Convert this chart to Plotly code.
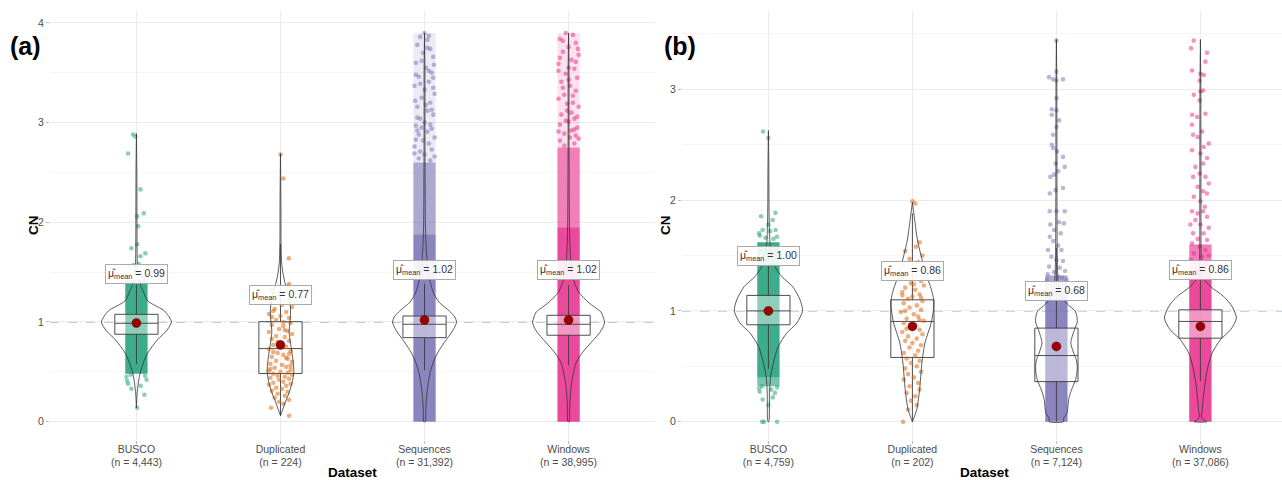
import plotly.graph_objects as go

# ---------------- data ----------------
categories = ["BUSCO", "Duplicated", "Sequences", "Windows"]
n_a = ["4,443", "224", "31,392", "38,995"]
n_b = ["4,759", "202", "7,124", "37,086"]
colors = ["#1B9E77", "#D95F02", "#7570B3", "#E7298A"]

# box statistics (panel a)
q1_a = [0.877, 0.483, 0.843, 0.867]
med_a = [0.987, 0.733, 0.977, 0.977]
q3_a = [1.077, 1.003, 1.060, 1.067]
min_a = [0.14, 0.06, 0.0, 0.0]
max_a = [2.89, 2.69, 3.90, 3.90]
mean_a = [0.99, 0.77, 1.02, 1.02]

# box statistics (panel b)
q1_b = [0.875, 0.580, 0.362, 0.754]
med_b = [1.000, 0.905, 0.597, 0.905]
q3_b = [1.140, 1.100, 0.845, 1.010]
min_b = [0.0, 0.0, 0.0, 0.0]
max_b = [2.63, 1.99, 3.45, 3.45]
mean_b = [1.00, 0.86, 0.68, 0.86]

# violin profiles: CN levels and half-widths (category units)
vy_a = [
    [0.14, 0.3, 0.45, 0.55, 0.68, 0.82, 0.91, 1.0, 1.11, 1.21, 1.31, 1.38, 1.45, 1.6, 2.0, 2.5, 2.89],
    [0.06, 0.1, 0.2, 0.3, 0.4, 0.5, 0.6, 0.7, 0.8, 0.9, 1.0, 1.1, 1.2, 1.3, 1.4, 1.5, 1.6, 1.8, 2.2, 2.69],
    [0.0, 0.1, 0.2, 0.3, 0.4, 0.5, 0.6, 0.7, 0.8, 0.9, 0.95, 1.0, 1.05, 1.1, 1.15, 1.2, 1.3, 1.4, 1.5, 1.6, 1.8, 2.0, 2.5, 3.0, 3.5, 3.9],
    [0.0, 0.1, 0.2, 0.3, 0.4, 0.5, 0.6, 0.7, 0.8, 0.9, 0.95, 1.0, 1.05, 1.1, 1.15, 1.2, 1.3, 1.4, 1.5, 1.6, 1.8, 2.0, 2.5, 3.0, 3.5, 3.9],
]
vw_a = [
    [0.0, 0.006, 0.02, 0.038, 0.075, 0.145, 0.208, 0.243, 0.195, 0.08, 0.046, 0.025, 0.012, 0.006, 0.004, 0.003, 0.0],
    [0.0, 0.01, 0.035, 0.062, 0.082, 0.093, 0.088, 0.079, 0.068, 0.06, 0.066, 0.07, 0.066, 0.05, 0.03, 0.016, 0.008, 0.004, 0.003, 0.0],
    [0.006, 0.008, 0.012, 0.018, 0.027, 0.04, 0.062, 0.095, 0.14, 0.19, 0.21, 0.222, 0.21, 0.18, 0.14, 0.10, 0.06, 0.04, 0.027, 0.018, 0.01, 0.006, 0.004, 0.003, 0.003, 0.0],
    [0.005, 0.007, 0.01, 0.014, 0.022, 0.035, 0.055, 0.10, 0.16, 0.22, 0.24, 0.25, 0.24, 0.225, 0.18, 0.135, 0.07, 0.04, 0.025, 0.016, 0.009, 0.006, 0.004, 0.003, 0.003, 0.0],
]
vy_b = [
    [0.0, 0.26, 0.41, 0.56, 0.68, 0.8, 0.89, 1.0, 1.1, 1.22, 1.31, 1.4, 1.5, 1.6, 1.8, 2.0, 2.3, 2.63],
    [0.0, 0.11, 0.29, 0.53, 0.71, 0.89, 1.0, 1.1, 1.2, 1.34, 1.5, 1.64, 1.8, 1.98],
    [0.0, 0.03, 0.08, 0.14, 0.2, 0.26, 0.32, 0.38, 0.44, 0.5, 0.56, 0.62, 0.71, 0.77, 0.83, 0.9, 0.95, 1.0, 1.05, 1.1, 1.2, 1.3, 1.5, 2.0, 3.0, 3.45],
    [0.0, 0.02, 0.05, 0.075, 0.2, 0.35, 0.5, 0.62, 0.74, 0.83, 0.935, 1.04, 1.13, 1.22, 1.3, 1.4, 1.5, 2.0, 3.0, 3.45],
]
vw_b = [
    [0.003, 0.008, 0.016, 0.04, 0.069, 0.127, 0.197, 0.237, 0.22, 0.168, 0.093, 0.046, 0.025, 0.012, 0.006, 0.004, 0.003, 0.0],
    [0.0, 0.03, 0.05, 0.066, 0.087, 0.13, 0.145, 0.148, 0.13, 0.092, 0.06, 0.035, 0.018, 0.0],
    [0.05, 0.05, 0.074, 0.08, 0.085, 0.097, 0.115, 0.133, 0.142, 0.145, 0.138, 0.12, 0.1, 0.11, 0.125, 0.145, 0.142, 0.13, 0.085, 0.05, 0.02, 0.01, 0.006, 0.004, 0.003, 0.0],
    [0.045, 0.02, 0.006, 0.01, 0.019, 0.032, 0.053, 0.081, 0.139, 0.21, 0.25, 0.22, 0.162, 0.07, 0.02, 0.008, 0.005, 0.004, 0.003, 0.0],
]

# densely over-plotted jitter zones [low, high] in CN (None = no zone)
solid_a = [[0.48, 1.42], None, [0.0, 1.88], [0.0, 1.95]]
mid_a = [None, None, [1.88, 2.60], [1.95, 2.75]]
light_a = [None, None, [2.60, 3.90], [2.75, 3.90]]
solid_b = [[0.40, 1.62], None, [0.0, 1.18], [0.0, 1.38]]
mid_b = [[0.32, 0.40], None, [1.18, 1.32], [1.38, 1.60]]
light_b = [None, None, None, None]

# individually visible jitter points: (offset from category, CN)
pts_a = [
    [(-0.023, 2.88), (-0.007, 2.86), (-0.058, 2.69), (0.028, 2.33), (0.051, 2.09), (0.005, 2.06),
     (0.012, 1.96), (0.005, 1.78), (-0.035, 1.74), (0.028, 1.66), (0.062, 1.69), (0.016, 1.58),
     (-0.053, 1.55), (-0.02, 1.57), (-0.05, 1.45), (0.04, 1.47), (-0.01, 1.50), (0.065, 1.44),
     (-0.058, 0.38), (-0.035, 0.33), (0.055, 0.27), (0.005, 0.14), (-0.07, 0.45), (0.07, 0.42),
     (-0.04, 0.47), (0.03, 0.36), (0.06, 0.46), (-0.065, 0.41)],
    [(0.0, 2.68), (0.02, 2.44), (0.058, 1.64), (0.06, 1.38), (-0.065, 0.14), (0.06, 0.06),
     (-0.06, 1.32), (0.03, 1.30), (-0.02, 1.25), (0.05, 1.22), (-0.07, 1.19), (0.01, 1.17),
     (0.08, 1.15), (-0.04, 1.13), (0.04, 1.10), (-0.08, 1.08), (0.0, 1.06), (0.06, 1.04),
     (-0.03, 1.02), (0.07, 0.99), (-0.06, 0.97), (0.02, 0.96), (-0.01, 0.93), (0.05, 0.91),
     (-0.08, 0.90), (0.08, 0.88), (-0.03, 0.86), (0.03, 0.85), (-0.06, 0.83), (0.06, 0.81),
     (0.0, 0.79), (-0.05, 0.77), (0.04, 0.75), (-0.08, 0.73), (0.07, 0.71), (-0.02, 0.69),
     (0.02, 0.67), (-0.06, 0.65), (0.05, 0.63), (-0.03, 0.61), (0.08, 0.60), (-0.07, 0.58),
     (0.01, 0.57), (0.04, 0.55), (-0.04, 0.54), (0.07, 0.52), (-0.08, 0.51), (0.0, 0.50),
     (0.05, 0.49), (-0.05, 0.48), (0.08, 0.47), (-0.02, 0.46), (0.03, 0.45), (-0.07, 0.44),
     (0.06, 0.43), (-0.01, 0.42), (0.02, 0.40), (-0.05, 0.39), (0.07, 0.38), (-0.08, 0.37),
     (0.04, 0.36), (-0.03, 0.34), (0.01, 0.33), (-0.06, 0.31), (0.05, 0.30), (-0.02, 0.28),
     (0.03, 0.26), (-0.04, 0.24), (0.06, 0.22), (-0.01, 0.20), (0.02, 0.18), (0.05, 1.36),
     (-0.04, 1.28), (0.01, 1.21), (-0.05, 1.11), (0.02, 1.00), (-0.02, 0.80), (0.06, 0.68),
     (-0.05, 0.70), (0.03, 0.92), (-0.06, 1.05), (0.07, 0.56), (-0.07, 0.53), (0.04, 0.64)],
    [(0.0, 3.90), (-0.03, 3.86), (0.02, 3.83), (-0.05, 3.78), (0.04, 3.74), (-0.01, 3.70),
     (0.06, 3.66), (-0.06, 3.60), (0.01, 3.55), (0.05, 3.50), (-0.04, 3.46), (0.03, 3.41),
     (-0.07, 3.37), (0.0, 3.33), (0.07, 3.29), (-0.02, 3.25), (0.04, 3.20), (-0.05, 3.16),
     (0.02, 3.12), (0.06, 3.08), (-0.03, 3.04), (0.0, 3.00), (-0.06, 2.97), (0.05, 2.94),
     (0.02, 2.91), (-0.04, 2.88), (0.07, 2.85), (-0.01, 2.82), (0.03, 2.79), (-0.07, 2.76),
     (0.05, 2.73), (-0.03, 2.71), (0.06, 3.45), (-0.05, 3.05), (0.04, 2.98), (-0.02, 3.62),
     (0.03, 3.87), (-0.06, 2.83), (0.065, 3.58), (-0.065, 3.22), (0.03, 3.52), (-0.03, 3.39),
     (0.05, 3.13), (-0.05, 2.92), (0.0, 2.68), (0.07, 2.66), (-0.07, 2.69), (0.02, 3.75),
     (-0.04, 2.64), (0.04, 2.62), (0.01, 3.18), (-0.02, 2.95), (0.06, 3.35), (-0.06, 3.48)],
    [(-0.02, 3.90), (0.03, 3.88), (-0.06, 3.84), (0.05, 3.80), (0.0, 3.76), (-0.04, 3.71),
     (0.07, 3.68), (0.02, 3.63), (-0.07, 3.59), (0.04, 3.54), (-0.02, 3.49), (0.06, 3.45),
     (-0.05, 3.41), (0.01, 3.37), (0.05, 3.32), (-0.03, 3.28), (-0.07, 3.24), (0.03, 3.20),
     (0.07, 3.16), (-0.01, 3.12), (-0.05, 3.08), (0.04, 3.04), (0.0, 3.01), (-0.06, 2.98),
     (0.06, 2.95), (0.02, 2.92), (-0.03, 2.89), (0.05, 2.87), (-0.07, 3.52), (0.065, 3.74),
     (-0.04, 3.35), (0.02, 3.10), (-0.06, 3.65), (0.04, 2.93), (0.0, 3.55), (-0.02, 3.02),
     (0.07, 2.84), (-0.06, 2.82), (0.03, 3.27), (-0.04, 3.82), (0.05, 3.61), (-0.01, 3.19),
     (0.04, 2.79), (-0.03, 2.77), (0.01, 2.85), (-0.07, 2.91), (0.06, 3.06), (0.0, 3.43)],
]
pts_b = [
    [(-0.051, 1.855), (0.049, 1.885), (0.03, 1.82), (-0.04, 1.73), (0.05, 1.73), (0.012, 1.72),
     (-0.037, 2.62), (0.0, 2.56), (-0.06, 1.68), (0.06, 1.67), (-0.02, 1.66), (0.035, 1.65),
     (-0.065, 1.70), (0.0, 1.78), (-0.044, 0.32), (-0.04, 0.20), (0.045, 0.26), (-0.044, 0.0),
     (-0.03, 0.0), (0.06, 0.0), (-0.06, 0.27), (0.06, 0.31), (0.02, 0.29), (0.03, 0.22),
     (0.0, 0.15), (-0.065, 0.30)],
    [(0.0, 1.99), (0.02, 1.97), (0.025, 1.58), (-0.05, 1.54), (0.07, 1.50), (-0.065, 0.0),
     (0.05, 1.62), (-0.02, 1.47), (0.04, 1.44), (-0.06, 1.41), (0.01, 1.39), (0.07, 1.36),
     (-0.04, 1.34), (0.03, 1.31), (-0.08, 1.29), (0.06, 1.27), (-0.01, 1.25), (0.08, 1.23),
     (-0.05, 1.21), (0.02, 1.19), (-0.07, 1.17), (0.05, 1.15), (0.0, 1.13), (-0.03, 1.11),
     (0.07, 1.09), (-0.06, 1.07), (0.03, 1.05), (-0.02, 1.03), (0.06, 1.01), (-0.08, 0.99),
     (0.01, 0.97), (0.04, 0.95), (-0.04, 0.93), (0.08, 0.91), (-0.06, 0.89), (0.02, 0.87),
     (-0.01, 0.85), (0.05, 0.83), (-0.07, 0.81), (0.07, 0.79), (-0.03, 0.77), (0.03, 0.75),
     (-0.05, 0.73), (0.0, 0.71), (0.06, 0.69), (-0.02, 0.67), (0.04, 0.64), (-0.06, 0.62),
     (0.02, 0.60), (-0.04, 0.57), (0.05, 0.55), (-0.01, 0.53), (0.03, 0.50), (-0.05, 0.48),
     (0.06, 0.45), (-0.03, 0.43), (0.01, 0.40), (-0.06, 0.38), (0.04, 0.35), (-0.02, 0.32),
     (0.05, 0.29), (-0.04, 0.26), (0.02, 0.23), (-0.01, 0.19), (0.03, 0.15), (-0.03, 0.11),
     (0.06, 1.12), (-0.05, 1.00), (0.05, 0.92), (-0.04, 0.84), (0.01, 1.24), (-0.07, 1.14)],
    [(0.0, 3.44), (0.0, 3.16), (-0.051, 3.11), (-0.023, 3.09), (0.0, 3.08), (0.046, 3.09),
     (0.0, 2.92), (-0.032, 2.82), (0.0, 2.81), (-0.032, 2.77), (0.019, 2.72), (0.0, 2.66),
     (-0.023, 2.59), (-0.032, 2.50), (-0.023, 2.47), (0.005, 2.44), (-0.005, 2.33), (0.046, 2.39),
     (0.058, 2.30), (-0.042, 2.21), (0.012, 2.26), (-0.016, 2.23), (-0.046, 2.06), (-0.005, 2.09),
     (0.046, 2.11), (0.0, 1.90), (-0.046, 1.90), (0.058, 1.90), (-0.042, 1.78), (0.019, 1.80),
     (0.053, 1.79), (-0.016, 1.73), (0.03, 1.70), (-0.046, 1.67), (-0.023, 1.63), (0.012, 1.59),
     (-0.058, 1.55), (0.035, 1.55), (-0.035, 1.49), (0.0, 1.46), (0.046, 1.45), (-0.051, 1.40),
     (0.023, 1.39), (-0.016, 1.35), (0.012, 1.31), (-0.065, 1.28), (0.07, 1.28), (0.06, 1.36),
     (-0.06, 1.33), (0.04, 1.30), (-0.03, 1.25), (0.05, 1.22)],
    [(-0.046, 3.44), (-0.065, 3.37), (0.046, 3.33), (0.035, 3.25), (0.0, 3.14), (0.023, 3.13),
     (-0.005, 3.08), (-0.058, 3.17), (0.0, 2.98), (-0.046, 2.95), (0.019, 2.99), (-0.005, 2.90),
     (-0.058, 2.77), (-0.023, 2.75), (0.035, 2.78), (-0.058, 2.68), (0.012, 2.62), (-0.019, 2.57),
     (-0.051, 2.59), (0.023, 2.48), (-0.058, 2.45), (0.058, 2.51), (0.0, 2.42), (0.046, 2.38),
     (-0.035, 2.30), (0.019, 2.33), (-0.005, 2.24), (0.035, 2.21), (-0.051, 2.21), (0.058, 2.15),
     (-0.019, 2.12), (0.019, 2.08), (0.046, 2.06), (-0.046, 2.03), (0.0, 1.99), (0.03, 1.94),
     (-0.058, 1.90), (-0.019, 1.88), (0.019, 1.90), (0.046, 1.85), (-0.035, 1.82), (-0.07, 1.78),
     (0.0, 1.78), (0.058, 1.75), (-0.051, 1.70), (0.023, 1.70), (-0.019, 1.65), (0.046, 1.64),
     (-0.058, 1.61), (-0.005, 1.58), (0.035, 1.55), (-0.046, 1.52), (0.012, 1.49), (0.058, 1.50),
     (-0.065, 1.46), (-0.023, 1.44), (0.046, 1.43)],
]

# ---------------- layout constants ----------------
label_y_a = [1.486, 1.27, 1.52, 1.52]
label_y_b = [1.50, 1.36, 1.18, 1.37]
FONT = "Liberation Sans, Arial, DejaVu Sans, sans-serif"
BAND_W = 0.155
ALPHA = {"solid": 0.85, "mid": 0.6, "light": 0.14}


def rgba(hexc, a):
    h = hexc.lstrip("#")
    r, g, b = int(h[0:2], 16), int(h[2:4], 16), int(h[4:6], 16)
    return f"rgba({r},{g},{b},{a})"


fig = go.Figure()


def add_panel(xa, ya, q1, med, q3, mn, mx, mean, vy, vw, solid, mid, light, pts):
    for i, cat in enumerate(categories):
        col = colors[i]
        # dense jitter zones
        for zone, key in ((solid, "solid"), (mid, "mid"), (light, "light")):
            z = zone[i]
            if z is None:
                continue
            fig.add_trace(go.Bar(
                x=[i], base=[z[0]], y=[z[1] - z[0]], width=BAND_W,
                marker=dict(color=rgba(col, ALPHA[key]), line=dict(width=0)),
                xaxis=xa, yaxis=ya, showlegend=False, hoverinfo="skip"))
        # individual points
        p = pts[i]
        fig.add_trace(go.Scatter(
            x=[i + d for d, _ in p], y=[v for _, v in p], mode="markers",
            marker=dict(size=4.6, color=rgba(col, 0.5), line=dict(width=0)),
            xaxis=xa, yaxis=ya, showlegend=False, hoverinfo="skip"))
        # box
        iqr = q3[i] - q1[i]
        lf = max(mn[i], q1[i] - 1.5 * iqr)
        uf = min(mx[i], q3[i] + 1.5 * iqr)
        fig.add_trace(go.Box(
            x=[i], q1=[q1[i]], median=[med[i]], q3=[q3[i]],
            lowerfence=[lf], upperfence=[uf], width=0.3, whiskerwidth=0,
            fillcolor="rgba(255,255,255,0.42)", line=dict(color="#3a3a3a", width=0.9),
            boxpoints=False, xaxis=xa, yaxis=ya, showlegend=False, hoverinfo="skip"))
        # violin outline
        ys = vy[i]
        ws = vw[i]
        xs = [i + w for w in ws] + [i - w for w in reversed(ws)]
        yy = list(ys) + list(reversed(ys))
        fig.add_trace(go.Scatter(
            x=xs + [xs[0]], y=yy + [yy[0]], mode="lines",
            line=dict(color="#333333", width=0.8, shape="spline", smoothing=0.7),
            xaxis=xa, yaxis=ya, showlegend=False, hoverinfo="skip"))
        # mean point
        fig.add_trace(go.Scatter(
            x=[i], y=[mean[i]], mode="markers",
            marker=dict(size=9, color="#9B0000", line=dict(width=0.5, color="#600000")),
            xaxis=xa, yaxis=ya, showlegend=False, hoverinfo="skip"))


add_panel("x", "y", q1_a, med_a, q3_a, min_a, max_a, mean_a, vy_a, vw_a, solid_a, mid_a, light_a, pts_a)
add_panel("x2", "y2", q1_b, med_b, q3_b, min_b, max_b, mean_b, vy_b, vw_b, solid_b, mid_b, light_b, pts_b)

annotations = []
for xr, yr, means, ly in (("x", "y", mean_a, label_y_a), ("x2", "y2", mean_b, label_y_b)):
    for i in range(len(categories)):
        annotations.append(dict(
            x=i, y=ly[i], xref=xr, yref=yr, showarrow=False,
            text=f"\u03bc\u0302<sub>mean</sub> = {means[i]:.2f}",
            font=dict(family=FONT, size=10.5, color="#333333"),
            bgcolor="rgba(255,255,255,0.9)", bordercolor="#AAAAAA", borderwidth=1, borderpad=2))

# titles / panel tags
annotations += [
    dict(text="<b>(a)</b>", x=8 / 1282, y=1 - 46 / 480, xref="paper", yref="paper",
         xanchor="left", yanchor="middle", showarrow=False, font=dict(family=FONT, size=25, color="#000")),
    dict(text="<b>(b)</b>", x=662 / 1282, y=1 - 46 / 480, xref="paper", yref="paper",
         xanchor="left", yanchor="middle", showarrow=False, font=dict(family=FONT, size=25, color="#000")),
    dict(text="<b>Dataset</b>", x=352 / 1282, y=1 - 472 / 480, xref="paper", yref="paper",
         xanchor="center", yanchor="middle",
         showarrow=False, font=dict(family=FONT, size=13.5, color="#000")),
    dict(text="<b>Dataset</b>", x=984 / 1282, y=1 - 472 / 480, xref="paper", yref="paper",
         xanchor="center", yanchor="middle",
         showarrow=False, font=dict(family=FONT, size=13.5, color="#000")),
    dict(text="<b>CN</b>", x=33 / 1282, y=1 - 225 / 480, xref="paper", yref="paper", textangle=-90,
         xanchor="center", yanchor="middle",
         showarrow=False, font=dict(family=FONT, size=13.5, color="#000")),
    dict(text="<b>CN</b>", x=665 / 1282, y=1 - 225 / 480, xref="paper", yref="paper", textangle=-90,
         xanchor="center", yanchor="middle",
         showarrow=False, font=dict(family=FONT, size=13.5, color="#000")),
]

shapes = [
    dict(type="line", xref="x domain", yref="y", x0=0, x1=1, y0=1, y1=1,
         line=dict(color="#6F9DC6", width=1, dash="dash"), layer="below"),
    dict(type="line", xref="x2 domain", yref="y2", x0=0, x1=1, y0=1, y1=1,
         line=dict(color="#6F9DC6", width=1, dash="dash"), layer="below"),
]

xcommon = dict(tickvals=[0, 1, 2, 3], showgrid=True, gridcolor="#EBEBEB", gridwidth=1,
               zeroline=False, showline=False, ticks="outside", ticklen=3, tickcolor="#BBBBBB",
               automargin=False, ticklabelstandoff=-4,
               tickfont=dict(family=FONT, size=10.5, color="#4D4D4D"))
ycommon = dict(tickvals=[0, 1, 2, 3, 4], showgrid=True, gridcolor="#EBEBEB", gridwidth=1,
               minor=dict(dtick=0.5, showgrid=True, gridcolor="#F5F5F5", ticks=""),
               zeroline=False, showline=False, ticks="outside", ticklen=3, tickcolor="#BBBBBB",
               automargin=False,
               tickfont=dict(family=FONT, size=10.5, color="#4D4D4D"))

fig.update_layout(
    width=1282, height=480, margin=dict(l=0, r=0, t=0, b=0, autoexpand=False),
    paper_bgcolor="white", plot_bgcolor="white", barmode="overlay", showlegend=False,
    font=dict(family=FONT),
    xaxis=dict(domain=[50 / 1282, 655 / 1282], range=[-0.6, 3.6],
               ticktext=[f"{c}<br>(n = {n})" for c, n in zip(categories, n_a)], **xcommon),
    xaxis2=dict(domain=[682 / 1282, 1.0], range=[-0.6, -0.6 + 600 / 144.0],
                ticktext=[f"{c}<br>(n = {n})" for c, n in zip(categories, n_b)], anchor="y2", **xcommon),
    yaxis=dict(domain=[40 / 480, 469 / 480], range=[-0.184, 4.12], anchor="x", **ycommon),
    yaxis2=dict(domain=[40 / 480, 469 / 480], range=[-0.165, 3.707], anchor="x2", **ycommon),
    annotations=annotations, shapes=shapes,
)

fig.write_html(
    "out.html",
    config={"displayModeBar": False},
    post_script="document.body.style.margin='0px';document.body.style.overflow='hidden';",
)
